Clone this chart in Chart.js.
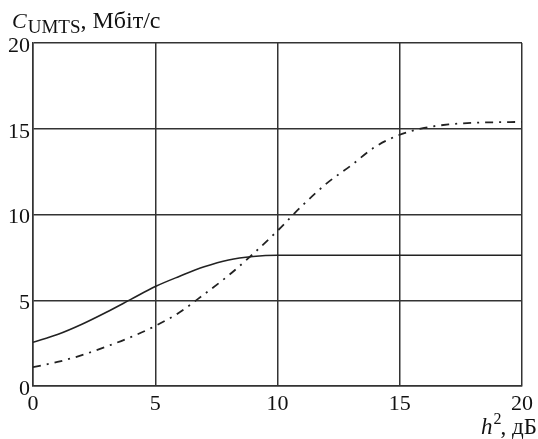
<!DOCTYPE html>
<html>
<head>
<meta charset="utf-8">
<script src="https://cdn.jsdelivr.net/npm/chart.js@4"></script>
<style>
  html, body { margin: 0; padding: 0; background: #fff; }
  #wrap { width: 538px; height: 439px; }
</style>
</head>
<body>
<div id="wrap"><canvas id="myChart" width="538" height="439"></canvas></div>
<script>
const xValues = [0, 1, 2, 3, 4, 5, 6, 7, 8, 9, 10, 11, 12, 13, 14, 15, 16, 17, 18, 19, 20];
const solidValues = [2.55, 3.0, 3.6, 4.3, 5.05, 5.8, 6.4, 6.95, 7.35, 7.55, 7.62, 7.62, 7.62, 7.62, 7.62, 7.62, 7.62, 7.62, 7.62, 7.62, 7.62];
const dashDotValues = [1.1, 1.4, 1.8, 2.3, 2.85, 3.5, 4.3, 5.35, 6.45, 7.7, 9.05, 10.5, 11.8, 12.85, 13.95, 14.65, 15.05, 15.25, 15.35, 15.38, 15.4];
const tickValues = [0, 5, 10, 15, 20];

const FONT = "'Liberation Serif', 'Times New Roman', serif";
const ink = "#222";

const toPoints = (ys) => xValues.map((x, i) => ({ x: x, y: ys[i] }));

const labelsPlugin = {
  id: "axisLabels",
  afterDraw(chart) {
    const ctx = chart.ctx;
    ctx.save();
    ctx.fillStyle = "#111";
    ctx.textBaseline = "alphabetic";
    ctx.textAlign = "left";

    // y label: C_UMTS, Мбіт/с
    let x = 12;
    ctx.font = "italic 22px " + FONT;
    ctx.fillText("C", x, 28);
    x += ctx.measureText("C").width + 1;
    ctx.font = "19px " + FONT;
    ctx.fillText("UMTS", x, 33);
    x += ctx.measureText("UMTS").width;
    ctx.font = "24px " + FONT;
    ctx.fillText(", Мбіт/с", x, 28);

    // x label: h², дБ (right aligned near the canvas edge)
    ctx.font = "23px " + FONT;
    const tail = ", дБ";
    const wTail = ctx.measureText(tail).width;
    ctx.font = "16px " + FONT;
    const wSup = ctx.measureText("2").width;
    ctx.font = "italic 23px " + FONT;
    const wH = ctx.measureText("h").width;
    let rx = 537 - wTail - wSup - wH;
    ctx.fillText("h", rx, 434);
    rx += wH + 1;
    ctx.font = "16px " + FONT;
    ctx.fillText("2", rx, 424);
    rx += wSup - 1;
    ctx.font = "23px " + FONT;
    ctx.fillText(tail, rx, 434);
    ctx.restore();
  }
};

new Chart("myChart", {
  type: "line",
  data: {
    datasets: [
      {
        label: "solid",
        data: toPoints(solidValues),
        borderColor: ink,
        borderWidth: 1.6,
        pointRadius: 0,
        cubicInterpolationMode: "monotone",
        fill: false
      },
      {
        label: "dashdot",
        data: toPoints(dashDotValues),
        borderColor: ink,
        borderWidth: 1.8,
        borderDash: [8, 6, 2, 6],
        pointRadius: 0,
        cubicInterpolationMode: "monotone",
        fill: false
      }
    ]
  },
  options: {
    responsive: false,
    animation: false,
    events: [],
    layout: { padding: { top: 43, right: 15, left: 0, bottom: 0 } },
    plugins: {
      legend: { display: false },
      tooltip: { enabled: false }
    },
    scales: {
      x: {
        type: "linear",
        min: 0,
        max: 20,
        afterBuildTicks: (scale) => { scale.ticks = tickValues.map((v) => ({ value: v })); },
        afterFit: (scale) => { scale.height = 53; },
        grid: { color: "#333", lineWidth: 1.5, drawTicks: false },
        border: { color: "#333", width: 1.5 },
        ticks: {
          color: "#111",
          font: { family: FONT, size: 22 },
          padding: 5,
          maxRotation: 0
        }
      },
      y: {
        type: "linear",
        min: 0,
        max: 20,
        afterBuildTicks: (scale) => { scale.ticks = tickValues.map((v) => ({ value: v })); },
        afterFit: (scale) => { scale.width = 33; },
        grid: { color: "#333", lineWidth: 1.5, drawTicks: false },
        border: { color: "#333", width: 1.5 },
        ticks: {
          color: "#111",
          font: { family: FONT, size: 22 },
          padding: 3,
          labelOffset: 3
        }
      }
    }
  },
  plugins: [labelsPlugin]
});
</script>
</body>
</html>
